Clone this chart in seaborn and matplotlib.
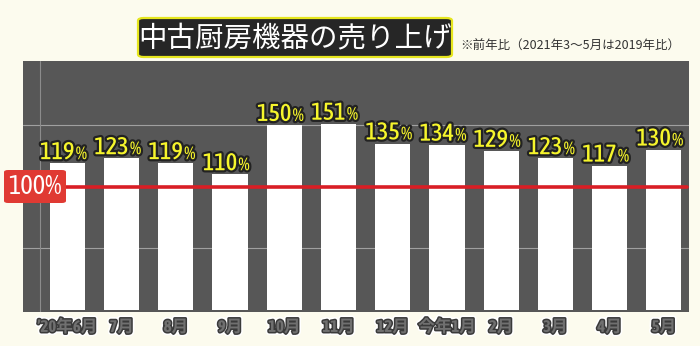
import matplotlib
matplotlib.use("Agg")
import matplotlib.pyplot as plt
import matplotlib.patheffects as pe
from matplotlib.patches import FancyBboxPatch
from matplotlib import font_manager
import seaborn as sns
import pandas as pd

# ---- data ----
months = ["’20年6月", "7月", "8月", "9月", "10月", "11月", "12月",
          "今年1月", "2月", "3月", "4月", "5月"]
values = [119, 123, 119, 110, 150, 151, 135, 134, 129, 123, 117, 130]
title = "中古厨房機器の売り上げ"
subtitle = "※前年比（2021年3～5月は2019年比）"
baseline_value = 100
baseline_label = "100%"

sns.set_theme(style="dark")
FONT = ["Noto Sans CJK JP", "DejaVu Sans"]
names = {f.name for f in font_manager.fontManager.ttflist}
cond = [n for n in ("Asap Condensed", "Saira SemiCondensed", "Sofia Sans Condensed")
        if n in names][:1]
NARROW = cond + FONT
plt.rcParams["font.family"] = FONT

W, H = 700, 346
fig = plt.figure(figsize=(W / 100, H / 100), dpi=100)
fig.patch.set_facecolor("#fcfbee")


def fx(px):
    return px / W


def fy(py):
    return 1 - py / H


ax = fig.add_axes([fx(23), fy(312), fx(689) - fx(23), fy(61) - fy(312)])
ax.set_facecolor("#575757")

df = pd.DataFrame({"month": months, "value": values})
sns.barplot(data=df, x="month", y="value", color="white", width=0.65,
            saturation=1, ax=ax, zorder=3, edgecolor="none")

ax.set_xlim(-0.82, 11.465)
ax.set_ylim(-1.6, 202)
for s in ax.spines.values():
    s.set_visible(False)
ax.set_xlabel("")
ax.set_ylabel("")
ax.set_yticks([])
ax.grid(False)

for gv in (50, 150):
    ax.axhline(gv, color="#a0a0a0", lw=0.8, zorder=1)
ax.axvline(-0.5, color="#8c8c8c", lw=0.8, zorder=1)

ax.axhline(baseline_value, xmin=0, xmax=0.997, color="#d91e25", lw=2.6,
           zorder=5, solid_capstyle="round")

ax.tick_params(axis="x", length=0, pad=5)
ax.set_xticks(range(len(months)))
ax.set_xticklabels(months)
for lab in ax.get_xticklabels():
    lab.set_fontsize(12)
    lab.set_fontweight("bold")
    lab.set_color("#707070")
    lab.set_family(NARROW)
    lab.set_path_effects([pe.Stroke(linewidth=4.5, foreground="white"),
                          pe.Stroke(linewidth=2.2, foreground="#3a3a3a"),
                          pe.Normal()])

lab_fx = [pe.Stroke(linewidth=3.2, foreground="#222222"), pe.Normal()]
for i, v in enumerate(values):
    ax.annotate(f"{v}", xy=(i, v), xytext=(5, 3), textcoords="offset points",
                ha="right", va="baseline", fontsize=17.5, fontweight="medium",
                color="#f6f52c", family=NARROW, zorder=6, path_effects=lab_fx,
                annotation_clip=False)
    ax.annotate("%", xy=(i, v), xytext=(6, 3), textcoords="offset points",
                ha="left", va="baseline", fontsize=13, fontweight="medium",
                color="#f6f52c", family=NARROW, zorder=6, path_effects=lab_fx,
                annotation_clip=False)

tag = FancyBboxPatch((fx(4), fy(203)), fx(66) - fx(4), fy(170) - fy(203),
                     boxstyle="round,pad=0,rounding_size=0.006",
                     transform=fig.transFigure, fc="#e03a33", ec="none",
                     zorder=10)
fig.patches.append(tag)
fig.text(fx(35), fy(187), baseline_label, ha="center", va="center",
         fontsize=19, color="white", family=NARROW, zorder=11)

tb = FancyBboxPatch((fx(138), fy(57)), fx(452) - fx(138), fy(18) - fy(57),
                    boxstyle="round,pad=0,rounding_size=0.008",
                    transform=fig.transFigure, fc="#262626", ec="#e6e61e",
                    lw=1.6, zorder=10)
fig.patches.append(tb)
fig.text(fx(295), fy(38), title, ha="center", va="center", fontsize=20.5,
         color="white", family=FONT, zorder=11)

fig.text(fx(460), fy(46), subtitle, ha="left", va="center", fontsize=9,
         color="#333333", family=FONT)

fig.savefig("out.png", dpi=100, facecolor=fig.get_facecolor())
